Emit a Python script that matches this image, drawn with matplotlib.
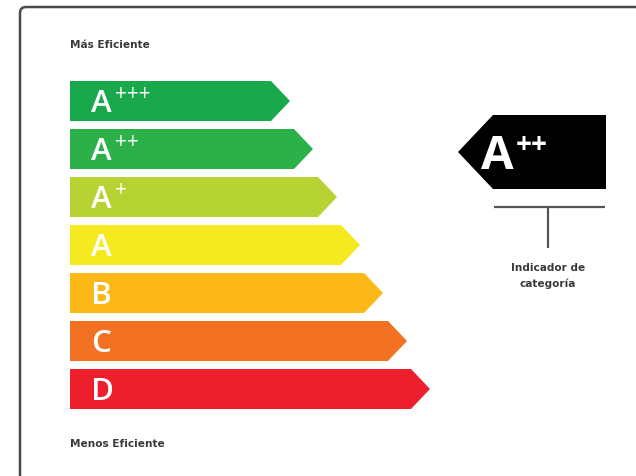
import matplotlib
matplotlib.use("Agg")
import matplotlib.pyplot as plt
from matplotlib.patches import Polygon, FancyBboxPatch

# clases de eficiencia, de mejor a peor
letras = ["A", "A", "A", "A", "B", "C", "D"]
supers = ["+++", "++", "+", "", "", "", ""]
colores = ["#1aa84c", "#2cb14a", "#b6d333", "#f4ea1f", "#fbb817", "#f37123", "#ed1f2d"]
punta_x = [290, 313, 337, 360, 383, 407, 430]  # extremo derecho de cada flecha

indicador_letra = "A"
indicador_super = "++"

W, H = 636, 476
fig = plt.figure(figsize=(W / 100, H / 100), dpi=100)
ax = fig.add_axes([0, 0, 1, 1])
ax.set_xlim(0, W)
ax.set_ylim(H, 0)
ax.axis("off")

FONT = "Open Sans"
FONT_TXT = "DejaVu Sans"
GRIS = "#3a3a3a"

# marco (solo arriba e izquierda se ven en el recorte)
marco = FancyBboxPatch((20, 7), 700, 600, boxstyle="round,pad=0,rounding_size=6",
                       fill=False, edgecolor="#4a4a4a", linewidth=1.8)
ax.add_patch(marco)

x0 = 70
alto = 40
paso = 48
y_ini = 81
cabeza = 19

for i, (letra, sup, col, px) in enumerate(zip(letras, supers, colores, punta_x)):
    top = y_ini + i * paso
    bot = top + alto
    mid = (top + bot) / 2
    poly = Polygon([(x0, top), (px - cabeza, top), (px, mid), (px - cabeza, bot), (x0, bot)],
                   closed=True, facecolor=col, edgecolor="none")
    ax.add_patch(poly)
    ax.text(91, bot - 9, letra, color="white", fontsize=22.5, family=FONT,
            fontweight="semibold", ha="left", va="baseline")
    if sup:
        ax.text(115, top + 14, sup, color="white", fontsize=15, family=FONT,
                ha="left", va="center")

ax.text(x0, 45, "Más Eficiente", color=GRIS, fontsize=7.6, family=FONT_TXT,
        fontweight="bold", ha="left", va="center")
ax.text(x0, 444, "Menos Eficiente", color=GRIS, fontsize=7.6, family=FONT_TXT,
        fontweight="bold", ha="left", va="center")

# indicador negro
ind = Polygon([(458, 152), (493, 115), (606, 115), (606, 189), (493, 189)],
              closed=True, facecolor="black", edgecolor="none")
ax.add_patch(ind)
ax.text(481, 169, indicador_letra, color="white", fontsize=34, family=FONT,
        fontweight="bold", ha="left", va="baseline")
ax.text(516, 146, indicador_super, color="white", fontsize=20, family=FONT,
        fontweight="bold", ha="left", va="center")

ax.plot([494, 605], [207, 207], color="#555555", linewidth=1.6, solid_capstyle="butt")
ax.plot([548, 548], [207, 248], color="#555555", linewidth=1.6, solid_capstyle="butt")
ax.text(548, 268, "Indicador de", color=GRIS, fontsize=7.6, family=FONT_TXT,
        fontweight="bold", ha="center", va="center")
ax.text(548, 284, "categoría", color=GRIS, fontsize=7.6, family=FONT_TXT,
        fontweight="bold", ha="center", va="center")

fig.savefig("out.png", dpi=100)
